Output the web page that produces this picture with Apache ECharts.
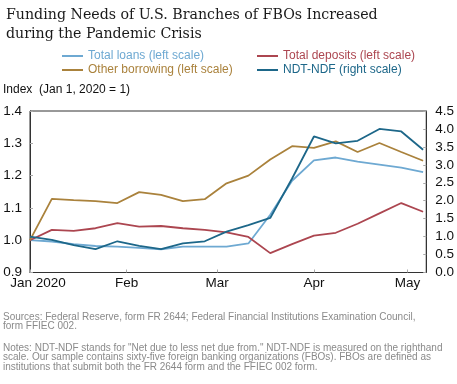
<!DOCTYPE html>
<html>
<head>
<meta charset="utf-8">
<script src="https://cdn.jsdelivr.net/npm/echarts@6/dist/echarts.min.js"></script>
<style>
html,body{margin:0;padding:0;background:#fff;}
#chart{width:457px;height:384px;}
</style>
</head>
<body>
<div id="chart"></div>
<script>
// ---- data ----
const dates = ['2020-01-01','2020-01-08','2020-01-15','2020-01-22','2020-01-29','2020-02-05','2020-02-12','2020-02-19','2020-02-26','2020-03-04','2020-03-11','2020-03-18','2020-03-25','2020-04-01','2020-04-08','2020-04-15','2020-04-22','2020-04-29','2020-05-06'];
const totalLoans = [1.000, 0.996, 0.988, 0.982, 0.980, 0.976, 0.972, 0.980, 0.980, 0.980, 0.990, 1.079, 1.184, 1.247, 1.256, 1.243, 1.234, 1.225, 1.211];
const totalDeposits = [1.000, 1.032, 1.029, 1.037, 1.053, 1.042, 1.044, 1.037, 1.032, 1.024, 1.010, 0.960, 0.988, 1.014, 1.023, 1.051, 1.083, 1.115, 1.088];
const otherBorrowing = [1.000, 1.128, 1.124, 1.121, 1.115, 1.149, 1.140, 1.121, 1.127, 1.176, 1.200, 1.250, 1.291, 1.286, 1.306, 1.273, 1.301, 1.273, 1.246];
const ndtNdf = [1.00, 0.91, 0.76, 0.65, 0.87, 0.74, 0.65, 0.81, 0.87, 1.14, 1.32, 1.52, 2.62, 3.79, 3.60, 3.67, 4.00, 3.93, 3.42];
const monthTicks = ['2020-01-01','2020-02-01','2020-03-01','2020-04-01','2020-05-01'];
const monthLabels = ['Jan 2020','Feb','Mar','Apr','May'];
const axisStart = '2020-01-01';
const axisEnd = '2020-05-07';
const seriesNames = ['Total loans (left scale)','Total deposits (left scale)','Other borrowing (left scale)','NDT-NDF (right scale)'];
const colors = ['#6ea9d2','#ac4650','#aa823c','#1d6789'];

const DAY = 86400000;
const dayOf = d => Math.round((Date.parse(d + 'T00:00:00Z') - Date.parse(axisStart + 'T00:00:00Z')) / DAY);
const tickDays = monthTicks.map(dayOf);
const pairs = arr => dates.map((d,i) => [dayOf(d), arr[i]]);

const chart = echarts.init(document.getElementById('chart'), null, {renderer:'canvas'});
const sans = 'Liberation Sans, Arial, sans-serif';
const footColor = '#8a8a8a';

function legendItem(i){
  return {name: seriesNames[i], textStyle:{color: colors[i]}};
}

chart.setOption({
  animation: false,
  backgroundColor: '#fff',
  title: {
    text: 'Funding Needs of U.S. Branches of FBOs Increased\nduring the Pandemic Crisis',
    left: 1, top: 1,
    textStyle: {fontFamily: 'DejaVu Serif', fontWeight: 'normal', fontSize: 14.2, lineHeight: 19, color: '#1a1a1a'}
  },
  legend: [
    {
      orient: 'vertical', left: 62, top: 50, itemGap: 2, padding: 0,
      icon: 'rect', itemWidth: 21, itemHeight: 2,
      textStyle: {fontFamily: sans, fontSize: 12},
      data: [legendItem(0), legendItem(2)]
    },
    {
      orient: 'vertical', left: 257, top: 50, itemGap: 2, padding: 0,
      icon: 'rect', itemWidth: 21, itemHeight: 2,
      textStyle: {fontFamily: sans, fontSize: 12},
      data: [legendItem(1), legendItem(3)]
    }
  ],
  grid: {left: 30, right: 26, top: 111, bottom: 111.5, show: true, borderColor: '#333', borderWidth: 1},
  xAxis: {
    type: 'value',
    min: 0, max: dayOf(axisEnd),
    axisLine: {show: true, lineStyle: {color: '#333'}},
    splitLine: {show: false},
    axisTick: {show: true, inside: true, length: 3, lineStyle: {color: '#aaa'}, customValues: tickDays},
    axisLabel: {
      customValues: tickDays,
      color: '#111', fontFamily: sans, fontSize: 13.5, margin: 4,
      formatter: function(v){
        const i = tickDays.indexOf(Math.round(v));
        if (i < 0) return '';
        return i === 0 ? '{first|' + monthLabels[i] + '}' : monthLabels[i];
      },
      rich: {first: {color: '#111', fontFamily: sans, fontSize: 13.5, padding: [0,0,0,16]}}
    }
  },
  yAxis: [
    {
      type: 'value', min: 0.9, max: 1.4, interval: 0.1,
      axisLine: {show: true, lineStyle: {color: '#333'}},
      axisTick: {show: true, inside: true, length: 3, lineStyle: {color: '#aaa'}},
      splitLine: {show: false},
      axisLabel: {color: '#111', fontFamily: sans, fontSize: 13.5, margin: 8, formatter: v => v.toFixed(1)}
    },
    {
      type: 'value', min: 0, max: 4.5, interval: 0.5,
      axisLine: {show: true, lineStyle: {color: '#333'}},
      axisTick: {show: true, inside: true, length: 3, lineStyle: {color: '#aaa'}},
      splitLine: {show: false},
      axisLabel: {color: '#111', fontFamily: sans, fontSize: 13.5, margin: 9, formatter: v => v.toFixed(1)}
    }
  ],
  graphic: [
    {type:'text', left: 3, top: 84, style:{text:'Index  (Jan 1, 2020 = 1)', font:'12px Liberation Sans, Arial, sans-serif', fill:'#111'}},
    {type:'text', left: 3, top: 312, style:{text:'Sources: Federal Reserve, form FR 2644; Federal Financial Institutions Examination Council,\nform FFIEC 002.', font:'10px Liberation Sans, Arial, sans-serif', fill: footColor, lineHeight: 9.7}},
    {type:'text', left: 3, top: 343, style:{text:'Notes: NDT-NDF stands for "Net due to less net due from." NDT-NDF is measured on the righthand\nscale. Our sample contains sixty-five foreign banking organizations (FBOs). FBOs are defined as\ninstitutions that submit both the FR 2644 form and the FFIEC 002 form.', font:'10px Liberation Sans, Arial, sans-serif', fill: footColor, lineHeight: 9.7}}
  ],
  series: [
    {name: seriesNames[0], type:'line', yAxisIndex:0, data: pairs(totalLoans), showSymbol:false, lineStyle:{width:1.8, color: colors[0]}, itemStyle:{color: colors[0]}, z: 2},
    {name: seriesNames[1], type:'line', yAxisIndex:0, data: pairs(totalDeposits), showSymbol:false, lineStyle:{width:1.8, color: colors[1]}, itemStyle:{color: colors[1]}, z: 2},
    {name: seriesNames[2], type:'line', yAxisIndex:0, data: pairs(otherBorrowing), showSymbol:false, lineStyle:{width:1.8, color: colors[2]}, itemStyle:{color: colors[2]}, z: 2},
    {name: seriesNames[3], type:'line', yAxisIndex:1, data: pairs(ndtNdf), showSymbol:false, lineStyle:{width:1.8, color: colors[3]}, itemStyle:{color: colors[3]}, z: 3}
  ]
});
</script>
</body>
</html>
